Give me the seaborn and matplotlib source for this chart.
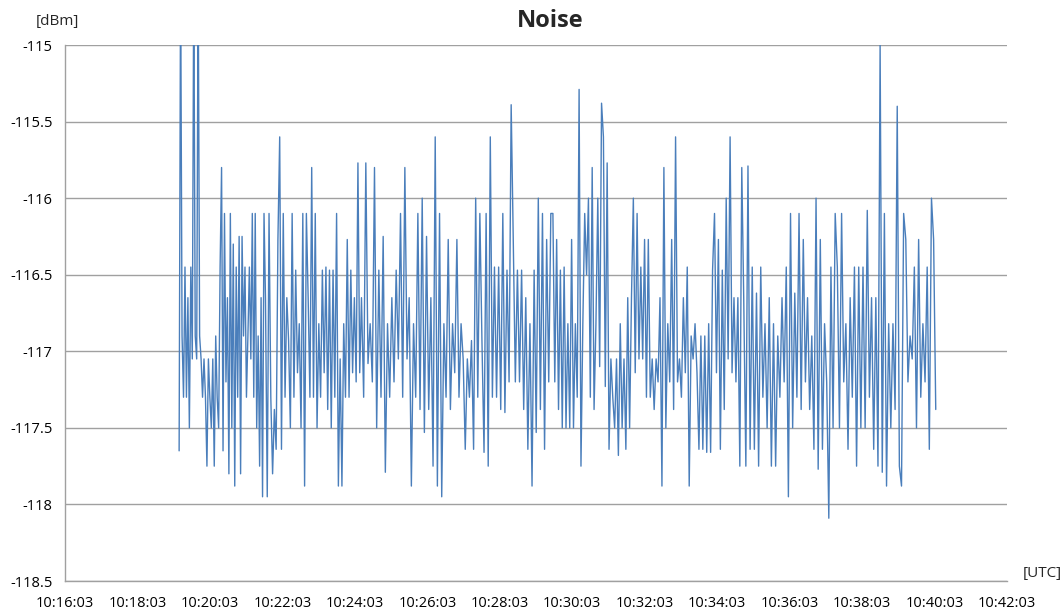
import numpy as np
import pandas as pd
import matplotlib
matplotlib.use("Agg")
import matplotlib.pyplot as plt
from matplotlib.ticker import FuncFormatter
import seaborn as sns

# ---- data ----
# time at which each stretch of readings starts, and the time of the last reading
segment_starts = ["10:19:12", "10:21:35", "10:24:14", "10:26:52", "10:29:31",
                  "10:32:09", "10:34:47", "10:37:22"]
end_time = "10:40:05"

seg1 = [-117.65, -114.5, -116.9, -117.3, -116.45, -117.3, -116.65, -117.5, -116.45, -117.05,
        -114.5, -116.9, -117.05, -114.5, -116.9, -117.05, -117.3, -117.05, -117.3, -117.75,
        -117.05, -117.3, -117.5, -117.05, -117.75, -116.9, -117.3, -117.5, -116.45, -115.8,
        -117.65, -116.1, -117.2, -116.65, -117.8, -116.1, -117.5, -116.3, -117.88, -116.45,
        -117.3, -116.25, -117.8, -116.25, -116.9, -116.45, -117.3, -116.9, -116.45, -117.05,
        -116.1, -117.3, -116.1, -117.5, -116.9, -117.75, -116.65, -117.95, -116.1]
seg2 = [-116.65, -117.95, -116.1, -117.3, -117.8, -117.38, -117.64, -116.27, -115.6, -117.64,
        -116.1, -117.3, -116.65, -116.93, -117.5, -116.1, -117.3, -116.47, -117.14, -116.82,
        -117.5, -116.1, -117.88, -116.1, -116.65, -117.3, -115.8, -117.3, -116.1, -117.5,
        -116.82, -117.3, -116.47, -117.14, -116.45, -117.38, -116.47, -117.5, -116.47, -117.3,
        -116.1, -117.88, -117.05, -117.88, -116.82, -117.3, -116.27, -117.3, -116.47, -117.14,
        -116.65, -117.2, -115.77, -117.14]
seg3 = [-116.65, -117.3, -115.77, -117.08, -116.82, -117.2, -115.8, -117.5, -116.47, -117.3,
        -116.25, -117.79, -116.82, -117.3, -116.65, -117.2, -116.47, -117.05, -116.1, -117.3,
        -115.8, -117.05, -116.65, -117.88, -116.82, -117.3, -116.1, -117.38, -116.0, -117.53,
        -116.25, -117.38, -116.65, -117.75, -115.6, -117.88, -116.1, -117.95, -116.82, -117.3,
        -116.27, -117.38, -116.82, -117.14]
seg4 = [-116.27, -117.3, -116.82, -117.05, -117.64, -117.05, -117.3, -116.93, -117.64, -116.0,
        -117.3, -116.1, -116.93, -117.66, -116.1, -117.75, -115.6, -117.3, -116.45, -117.3,
        -116.45, -117.38, -116.1, -117.4, -116.47, -117.2, -115.39, -116.27, -117.2, -116.47,
        -117.2, -116.47, -117.38, -116.65, -117.64, -116.82, -117.88, -116.47, -117.53, -116.0,
        -117.38, -116.1, -117.64, -116.27, -117.2, -116.1]
seg5 = [-116.1, -117.2, -116.27, -117.38, -116.47, -117.5, -116.45, -117.5, -116.82, -117.5,
        -116.27, -117.5, -116.82, -117.3, -115.29, -117.75, -116.82, -116.1, -116.5, -116.0,
        -117.3, -115.8, -117.38, -116.82, -116.0, -117.1, -115.38, -115.6, -117.23, -115.77,
        -117.64, -117.05, -117.3, -117.5, -117.05, -117.68, -116.82, -117.5, -117.05, -117.64,
        -116.65, -117.5, -116.65, -116.0, -117.14, -116.1, -117.05, -116.45, -117.05, -116.27,
        -117.3]
seg6 = [-116.27, -117.3, -117.05, -117.38, -117.05, -117.2, -116.65, -117.88, -115.8, -117.5,
        -116.82, -117.2, -116.27, -117.38, -115.6, -117.2, -117.05, -117.3, -116.65, -117.14,
        -116.45, -117.88, -116.9, -117.05, -116.82, -117.14, -117.64, -116.9, -117.64, -116.9,
        -117.66, -116.82, -117.66, -116.47, -116.1, -117.14, -116.27, -117.64, -116.47, -117.38,
        -116.0, -117.05, -115.6, -117.14, -116.65, -117.2, -116.65, -117.75, -115.8]
seg7 = [-116.65, -117.75, -115.79, -117.64, -116.45, -117.64, -116.62, -117.75, -116.45, -117.3,
        -116.82, -117.5, -116.65, -117.75, -116.82, -117.75, -116.9, -117.3, -116.65, -117.2,
        -116.45, -117.95, -116.1, -117.5, -116.62, -117.3, -116.1, -117.38, -116.27, -117.2,
        -116.65, -117.38, -116.9, -117.64, -116.0, -117.77, -116.27, -117.64, -116.82, -117.2,
        -118.09, -116.45, -117.5, -116.1]
seg8 = [-116.45, -117.5, -116.1, -117.2, -116.82, -117.64, -116.65, -117.3, -116.45, -117.75,
        -116.45, -117.5, -116.45, -117.5, -116.08, -117.3, -116.65, -117.64, -116.65, -117.75,
        -115.0, -117.79, -116.1, -117.88, -116.82, -117.5, -116.82, -117.38, -115.4, -117.75,
        -117.88, -116.1, -116.27, -117.2, -116.9, -117.05, -116.45, -117.5, -116.27, -117.3,
        -116.82, -117.2, -116.45, -117.64, -116.0, -116.27, -117.38]

segments = [seg1, seg2, seg3, seg4, seg5, seg6, seg7, seg8]

y_ticks = [-115, -115.5, -116, -116.5, -117, -117.5, -118, -118.5]
x_tick_labels = ["10:16:03", "10:18:03", "10:20:03", "10:22:03", "10:24:03", "10:26:03", "10:28:03",
                 "10:30:03", "10:32:03", "10:34:03", "10:36:03", "10:38:03", "10:40:03", "10:42:03"]

day = "2020-01-01 "

# build a tidy frame: readings in each stretch are spread evenly over its time span
bounds = [pd.Timestamp(day + t) for t in segment_starts] + [pd.Timestamp(day + end_time)]
frames = []
for i, seg in enumerate(segments):
    last = (i == len(segments) - 1)
    t = pd.date_range(bounds[i], bounds[i + 1], periods=len(seg) + (0 if last else 1))
    if not last:
        t = t[:-1]
    frames.append(pd.DataFrame({"time": t, "noise": seg}))
df = pd.concat(frames, ignore_index=True)

# ---- style ----
sns.set_style("white")
plt.rcParams["font.family"] = ["Open Sans", "DejaVu Sans"]

fig = plt.figure(figsize=(10.64, 6.13), dpi=100)
ax = fig.add_axes([65 / 1064, (613 - 581) / 613, 942 / 1064, 536 / 613])

sns.lineplot(data=df, x="time", y="noise", ax=ax, color="#4a7ebb", linewidth=1.0)

x_ticks = pd.to_datetime([day + t for t in x_tick_labels])
ax.set_xticks(x_ticks)
ax.set_xticklabels(x_tick_labels)
ax.set_xlim(x_ticks[0], x_ticks[-1])

ax.set_yticks(y_ticks)
ax.yaxis.set_major_formatter(FuncFormatter(lambda v, p: f"{v:g}"))
ax.set_ylim(-118.5, -115)

ax.grid(axis="y", color="#a0a0a0", linewidth=1.0)
ax.grid(axis="x", visible=False)
ax.set_axisbelow(True)

for s in ["top", "right"]:
    ax.spines[s].set_visible(False)
for s in ["left", "bottom"]:
    ax.spines[s].set_color("#a0a0a0")
    ax.spines[s].set_linewidth(1.0)

ax.tick_params(axis="both", which="major", labelsize=10.5, colors="#a0a0a0",
               labelcolor="#000000", length=5, width=1, direction="out")
ax.tick_params(axis="x", pad=6)
ax.tick_params(axis="y", pad=4)

ax.set_xlabel("")
ax.set_ylabel("")

fig.text(550 / 1064, 1 - 21 / 613, "Noise", ha="center", va="center",
         fontsize=17, fontweight="bold")
fig.text(57 / 1064, 1 - 22 / 613, "[dBm]", ha="center", va="center", fontsize=11)
fig.text(1042 / 1064, 1 - 573 / 613, "[UTC]", ha="center", va="center", fontsize=11)

fig.savefig("out.png", dpi=100)
